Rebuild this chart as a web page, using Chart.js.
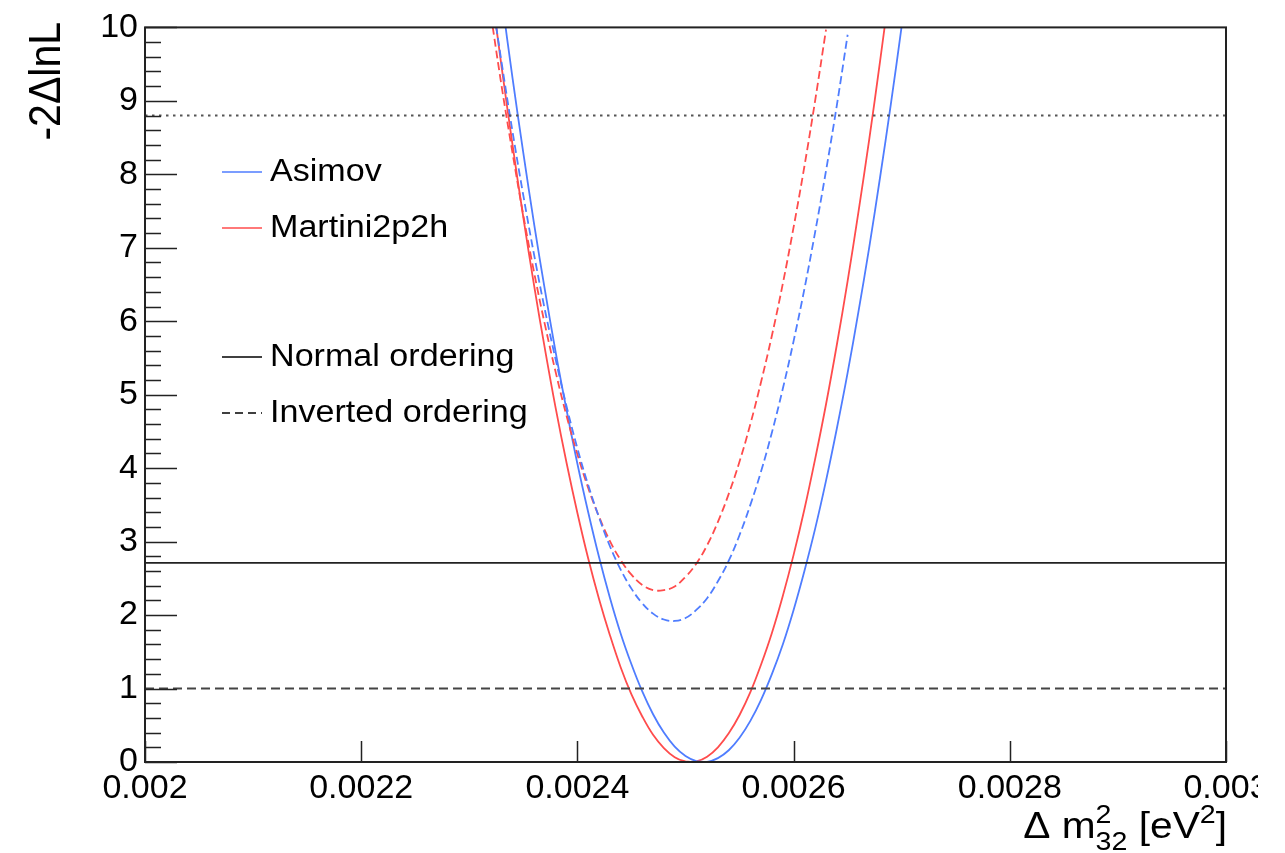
<!DOCTYPE html>
<html>
<head>
<meta charset="utf-8">
<script src="https://cdn.jsdelivr.net/npm/chart.js@4.4.1/dist/chart.umd.min.js"></script>
<style>
  html, body { margin: 0; padding: 0; background: #fff; }
  #wrap { width: 1285px; height: 853px; }
</style>
</head>
<body>
<div id="wrap"><canvas id="chart" width="1285" height="853"></canvas></div>
<script>
// delta m^2_32 sample points (eV^2)
const xValues = [
  0.00232, 0.00233, 0.00234, 0.00235, 0.00236, 0.00237, 0.00238, 0.00239,
  0.00240, 0.00241, 0.00242, 0.00243, 0.00244, 0.00245, 0.00246, 0.00247,
  0.00248, 0.00249, 0.00250, 0.00251, 0.00252, 0.00253, 0.00254, 0.00255,
  0.00256, 0.00257, 0.00258, 0.00259, 0.00260, 0.00261, 0.00262, 0.00263,
  0.00264, 0.00265, 0.00266, 0.00267, 0.00268, 0.00269, 0.00270, 0.00271
];

// -2 delta lnL, normal ordering (solid)
const asimovNO = [
  11.54, 10.40, 9.31, 8.29, 7.32, 6.42, 5.57, 4.79,
  4.06, 3.40, 2.79, 2.24, 1.75, 1.33, 0.96, 0.65,
  0.40, 0.21, 0.083, 0.013, 0.003, 0.053, 0.16, 0.33,
  0.56, 0.85, 1.20, 1.60, 2.07, 2.60, 3.18, 3.83,
  4.54, 5.30, 6.13, 7.01, 7.96, 8.96, 10.02, 11.15
];
const martiniNO = [
  10.56, 9.45, 8.40, 7.41, 6.48, 5.62, 4.81, 4.07,
  3.39, 2.77, 2.22, 1.73, 1.29, 0.92, 0.62, 0.37,
  0.19, 0.066, 0.007, 0.009, 0.073, 0.20, 0.39, 0.64,
  0.95, 1.33, 1.76, 2.26, 2.82, 3.44, 4.13, 4.87,
  5.68, 6.55, 7.49, 8.48, 9.54, 10.65, null, null
];

// -2 delta lnL, inverted ordering (dashed)
const asimovIO = [
  10.50, 9.51, 8.58, 7.71, 6.90, 6.15, 5.47, 4.84,
  4.27, 3.77, 3.33, 2.94, 2.62, 2.36, 2.16, 2.02,
  1.94, 1.92, 1.96, 2.07, 2.23, 2.46, 2.74, 3.09,
  3.50, 3.96, 4.49, 5.08, 5.73, 6.44, 7.22, 8.05,
  8.94, 9.90, null, null, null, null, null, null
];
const martiniIO = [
  10.17, 9.19, 8.29, 7.44, 6.66, 5.95, 5.30, 4.71,
  4.19, 3.73, 3.34, 3.01, 2.75, 2.55, 2.41, 2.34,
  2.34, 2.39, 2.52, 2.70, 2.95, 3.27, 3.65, 4.09,
  4.60, 5.18, 5.81, 6.51, 7.28, 8.11, 9.01, 9.97,
  null, null, null, null, null, null, null, null
];

// horizontal reference levels
const levels = [8.8, 2.71, 1];

const xTickValues = [0.002, 0.0022, 0.0024, 0.0026, 0.0028, 0.003];
const xTickLabels = ['0.002', '0.0022', '0.0024', '0.0026', '0.0028', '0.003'];

const legendLabels = ['Asimov', 'Martini2p2h', 'Normal ordering', 'Inverted ordering'];

const BLUE = '#4f7dff';
const RED = '#ff4c4c';
const FONT = "'Liberation Sans', Arial, Helvetica, sans-serif";

function toPoints(ys) {
  return xValues.map((x, i) => ({ x: x, y: ys[i] })).filter(p => p.y !== null);
}

function levelLine(v) {
  return [{ x: xTickValues[0], y: v }, { x: xTickValues[xTickValues.length - 1], y: v }];
}

const curve = (data, color, dash) => ({
  data: data,
  borderColor: color,
  borderWidth: 1.8,
  borderDash: dash,
  pointRadius: 0,
  tension: 0.4,
  fill: false
});

const flat = (v, color, dash, width) => ({
  data: levelLine(v),
  borderColor: color,
  borderWidth: width,
  borderDash: dash,
  pointRadius: 0,
  tension: 0,
  fill: false
});

// text with a slight horizontal stretch, like the reference rendering
function wideText(ctx, text, x, y, sx) {
  ctx.save();
  ctx.translate(x, y);
  ctx.scale(sx, 1);
  ctx.fillText(text, 0, 0);
  ctx.restore();
}

const decorations = {
  id: 'decorations',
  afterDraw(chart) {
    const { ctx, chartArea: a, scales } = chart;
    const xs = scales.x, ys = scales.y;
    ctx.save();

    // inward tick marks
    ctx.strokeStyle = '#222';
    ctx.lineWidth = 1.5;
    ctx.beginPath();
    for (let i = 0; i <= 50; i++) {
      const py = Math.round(ys.getPixelForValue(i / 5)) + 0.5;
      const len = i % 5 === 0 ? 32 : 16;
      ctx.moveTo(a.left, py);
      ctx.lineTo(a.left + len, py);
    }
    xTickValues.forEach(v => {
      const px = Math.round(xs.getPixelForValue(v)) + 0.5;
      ctx.moveTo(px, a.bottom);
      ctx.lineTo(px, a.bottom - 21);
    });
    ctx.stroke();

    // frame
    ctx.lineWidth = 2;
    ctx.strokeRect(a.left, a.top, a.right - a.left, a.bottom - a.top);

    // legend
    const rows = [172, 228, 357, 413];
    const styles = [[BLUE, []], [RED, []], ['#000', []], ['#000', [8, 5]]];
    ctx.font = '31px ' + FONT;
    ctx.textBaseline = 'middle';
    ctx.textAlign = 'left';
    legendLabels.forEach((label, i) => {
      ctx.strokeStyle = styles[i][0];
      ctx.setLineDash(styles[i][1]);
      ctx.lineWidth = 1.6;
      ctx.beginPath();
      ctx.moveTo(222, rows[i]);
      ctx.lineTo(262, rows[i]);
      ctx.stroke();
      ctx.fillStyle = '#000';
      wideText(ctx, label, 270, rows[i], 1.1);
    });
    ctx.setLineDash([]);

    // y title
    ctx.save();
    ctx.translate(60, 22);
    ctx.rotate(-Math.PI / 2);
    ctx.scale(1, 1.1);
    ctx.font = '41px ' + FONT;
    ctx.textAlign = 'right';
    ctx.textBaseline = 'alphabetic';
    ctx.fillStyle = '#000';
    ctx.fillText('-2\u0394lnL', 0, 0);
    ctx.restore();

    // x title: Δ m^2_32 [eV^2]
    const big = '37px ' + FONT, small = '26px ' + FONT, sx = 1.1;
    const base = 838;
    ctx.textAlign = 'left';
    ctx.textBaseline = 'alphabetic';
    ctx.fillStyle = '#000';
    const parts = [
      { t: '\u0394 m', f: big, dy: 0 },
      { t: '2', f: small, dy: -15, stack: '32' },
      { t: ' [eV', f: big, dy: 0 },
      { t: '2', f: small, dy: -15 },
      { t: ']', f: big, dy: 0 }
    ];
    let total = 0;
    parts.forEach(p => {
      ctx.font = p.f;
      let w = ctx.measureText(p.t).width;
      if (p.stack) w = Math.max(w, ctx.measureText(p.stack).width);
      p.w = w * sx;
      total += p.w;
    });
    let cx = 1227 - total;
    parts.forEach(p => {
      ctx.font = p.f;
      wideText(ctx, p.t, cx, base + p.dy, sx);
      if (p.stack) wideText(ctx, p.stack, cx, base + 12, sx);
      cx += p.w;
    });

    // the reference image is cut off on the right edge
    ctx.fillStyle = '#fff';
    ctx.fillRect(1258, a.bottom + 4, 30, 100);

    ctx.restore();
  }
};

const ctx = document.getElementById('chart').getContext('2d');

new Chart(ctx, {
  type: 'line',
  data: {
    datasets: [
      flat(levels[0], '#555', [2.5, 4.5], 2),
      flat(levels[1], '#222', [], 1.8),
      flat(levels[2], '#444', [9, 5], 2),
      curve(toPoints(asimovIO), BLUE, [8, 4]),
      curve(toPoints(martiniIO), RED, [8, 4]),
      curve(toPoints(asimovNO), BLUE, []),
      curve(toPoints(martiniNO), RED, [])
    ]
  },
  options: {
    responsive: false,
    animation: false,
    layout: { padding: { top: 24, right: 59, left: 0, bottom: 0 } },
    plugins: {
      legend: { display: false },
      tooltip: { enabled: false }
    },
    scales: {
      x: {
        type: 'linear',
        min: 0.002,
        max: 0.003,
        grid: { display: false, drawTicks: false },
        border: { display: false },
        afterBuildTicks: s => { s.ticks = xTickValues.map(v => ({ value: v })); },
        afterFit: s => { s.height = 91; },
        ticks: {
          autoSkip: false,
          maxRotation: 0,
          padding: 6,
          color: '#000',
          font: { family: FONT, size: 34 },
          callback: (v, i) => xTickLabels[i]
        }
      },
      y: {
        min: 0,
        max: 10,
        grid: { display: false, drawTicks: false },
        border: { display: false },
        afterFit: s => { s.width = 145; },
        ticks: {
          stepSize: 1,
          padding: 7,
          color: '#000',
          font: { family: FONT, size: 34 }
        }
      }
    }
  },
  plugins: [decorations]
});
</script>
</body>
</html>
